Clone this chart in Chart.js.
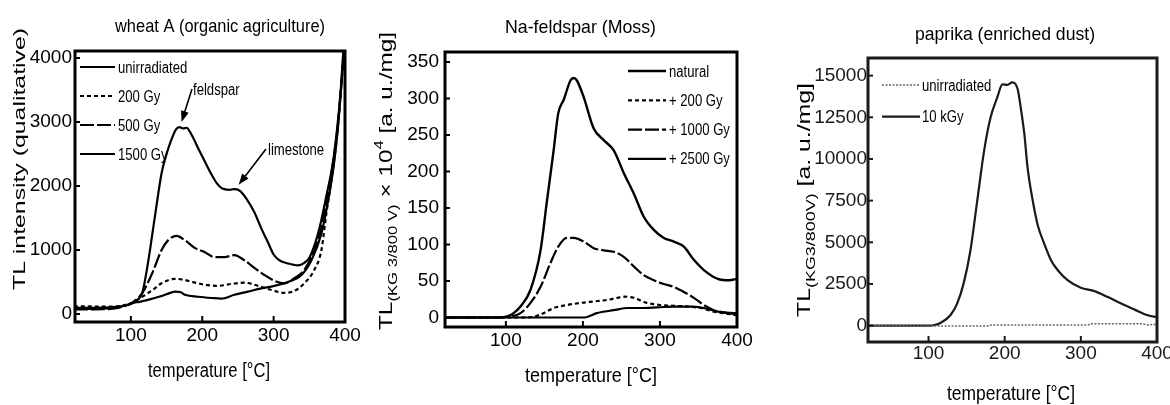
<!DOCTYPE html>
<html><head><meta charset="utf-8">
<script src="https://cdn.jsdelivr.net/npm/chart.js@4.4.1/dist/chart.umd.min.js"></script>
<style>
html,body{margin:0;padding:0;background:#fff;overflow:hidden;width:1170px;height:405px;position:relative}
canvas{position:absolute;top:0}
</style></head><body>
<canvas id="c1" width="370" height="405" style="left:0px"></canvas>
<canvas id="c2" width="400" height="405" style="left:370px"></canvas>
<canvas id="c3" width="420" height="405" style="left:770px"></canvas>
<script>
// ---------------- DATA ----------------
const xTicks = [100, 200, 300, 400];

// Panel 1: wheat A (organic agriculture)
const wheatLabels = ['unirradiated', '200 Gy', '500 Gy', '1500 Gy'];
const wheatYTicks = [0, 1000, 2000, 3000, 4000];
const wheatT_unirr = [20, 40, 60, 80, 95, 101, 112, 124, 143, 155, 162, 170, 176, 194, 213, 227, 245, 264, 283, 301, 320, 339, 353, 367, 376, 384, 390, 395, 400];
const wheatV_unirr = [100, 95, 100, 110, 140, 170, 190, 220, 280, 330, 350, 340, 300, 270, 250, 240, 300, 350, 400, 440, 500, 610, 840, 1260, 1750, 2300, 2900, 3600, 4300];
const wheatT_200 = [20, 40, 60, 80, 95, 101, 116, 130, 143, 162, 176, 190, 208, 222, 241, 259, 278, 297, 315, 329, 343, 357, 367, 374, 381, 388, 393, 397, 400];
const wheatV_200 = [120, 120, 115, 120, 150, 170, 270, 370, 480, 550, 530, 490, 450, 440, 470, 490, 440, 375, 330, 360, 480, 690, 1000, 1580, 2090, 2700, 3300, 3900, 4300];
const wheatT_500 = [20, 40, 60, 80, 95, 101, 116, 130, 143, 152, 164, 176, 190, 203, 217, 231, 245, 259, 273, 287, 301, 315, 329, 343, 357, 366, 375, 383, 390, 395, 400];
const wheatV_500 = [70, 70, 75, 90, 140, 170, 330, 640, 1000, 1150, 1220, 1150, 1030, 970, 890, 890, 920, 840, 720, 610, 520, 480, 560, 690, 1000, 1300, 1800, 2350, 2950, 3600, 4300];
const wheatT_1500 = [20, 40, 60, 80, 95, 101, 110, 116, 124, 134, 143, 150, 156, 163, 168, 173, 178, 185, 196, 205, 212, 220, 228, 238, 244, 252, 262, 273, 283, 292, 300, 308, 320, 334, 343, 350, 358, 364, 374, 383, 389, 394, 397, 400];
const wheatV_1500 = [80, 80, 85, 100, 140, 160, 230, 330, 800, 1550, 2200, 2500, 2700, 2880, 2920, 2900, 2910, 2800, 2550, 2350, 2200, 2050, 1960, 1940, 1950, 1930, 1800, 1590, 1330, 1120, 930, 840, 790, 760, 800, 880, 1100, 1330, 1850, 2360, 2900, 3500, 4000, 4400];
const wheatNotes = ['feldspar', 'limestone'];
const wheatNoteT = [171, 251];
const wheatNoteV = [3000, 2020];

// Panel 2: Na-feldspar (Moss)
const mossLabels = ['natural', '+ 200 Gy', '+ 1000 Gy', '+ 2500 Gy'];
const mossYTicks = [0, 50, 100, 150, 200, 250, 300, 350];
const mossT_nat = [20, 60, 90, 101, 110, 119, 132, 145, 153, 162, 168, 175, 184, 188, 192, 201, 214, 227, 240, 253, 266, 279, 292, 305, 318, 331, 344, 357, 375, 390, 400];
const mossV_nat = [0, 0, 0, 1, 6, 15, 38, 92, 157, 229, 280, 298, 325, 328, 325, 302, 259, 243, 229, 198, 170, 138, 120, 109, 104, 97, 79, 65, 53, 51, 53];
const mossT_200 = [20, 60, 100, 120, 136, 149, 162, 179, 197, 214, 231, 245, 255, 266, 283, 301, 318, 336, 353, 370, 388, 400];
const mossV_200 = [0, 0, 0, 0, 1, 6, 13, 17, 20, 22, 24, 27, 28.5, 27, 20, 17, 16, 15, 13, 8, 5, 3];
const mossT_1000 = [20, 60, 90, 101, 119, 132, 145, 158, 168, 179, 188, 201, 214, 227, 240, 253, 266, 279, 292, 305, 318, 331, 344, 357, 370, 383, 396, 400];
const mossV_1000 = [0, 0, 0, 1, 6, 20, 42, 75, 97, 109, 109, 104, 95, 92, 90, 83, 70, 58, 51, 46, 42, 35, 27, 17, 10, 7, 5, 5];
const mossT_2500 = [20, 100, 150, 201, 218, 240, 258, 275, 297, 318, 340, 357, 375, 396, 400];
const mossV_2500 = [0, 0, 0, 0, 6, 10, 13, 13, 14, 15, 15, 13, 8, 6, 6];

// Panel 3: paprika (enriched dust)
const papLabels = ['unirradiated', '10 kGy'];
const papYTicks = [0, 2500, 5000, 7500, 10000, 12500, 15000];
const papT_unirr = [20, 100, 180, 182, 310, 312, 380, 390, 395, 400];
const papV_unirr = [0, -20, -20, 40, 40, 110, 110, 30, 90, 20];
const papT_10k = [20, 60, 100, 108, 115.5, 128.7, 137.5, 146, 155, 164, 173, 181.5, 190.3, 197, 203.5, 210, 217, 221, 225.8, 230, 236.8, 243.5, 252, 261, 270, 283, 300, 318, 335.5, 353, 370.6, 388, 400];
const papV_10k = [0, 0, 0, 40, 160, 620, 1320, 2520, 4510, 7510, 10500, 12500, 13700, 14470, 14450, 14600, 14200, 13100, 11500, 9500, 7510, 6010, 4910, 3910, 3310, 2710, 2270, 2070, 1710, 1320, 960, 620, 500];

// ---------------- HELPERS ----------------
const FONT_R = '"Liberation Sans",Arial,sans-serif';
const NARROW = 0.82;
function pts(T, V) { return T.map((t, i) => ({ x: t, y: V[i] })); }

// horizontally condensed text (emulates a narrow face)
function nText(ctx, text, x, y, size, opts) {
  opts = opts || {};
  ctx.save();
  ctx.font = size + 'px ' + FONT_R;
  let s = NARROW;
  if (opts.width) s = opts.width / ctx.measureText(text).width;
  ctx.translate(x, y); ctx.scale(s, 1);
  ctx.textAlign = opts.align || 'left';
  ctx.textBaseline = opts.baseline || 'alphabetic';
  ctx.fillStyle = opts.color || '#000';
  ctx.fillText(text, 0, 0);
  ctx.restore();
}
function rotRich(ctx, segs, bx, cy, length) {
  ctx.save();
  let total = 0;
  segs.forEach(s => { ctx.font = s.size + 'px ' + FONT_R; s.w = ctx.measureText(s.text).width; total += s.w; });
  const k = length / total;
  ctx.translate(bx, cy); ctx.rotate(-Math.PI / 2); ctx.scale(k, 1);
  let x = -total / 2;
  ctx.textAlign = 'left'; ctx.textBaseline = 'alphabetic'; ctx.fillStyle = '#000';
  segs.forEach(s => { ctx.font = s.size + 'px ' + FONT_R; ctx.fillText(s.text, x, s.dy || 0); x += s.w; });
  ctx.restore();
}
function arrow(ctx, x0, y0, x1, y1) {
  const a = Math.atan2(y1 - y0, x1 - x0), L = 11, W = 4;
  ctx.beginPath(); ctx.moveTo(x0, y0); ctx.lineTo(x1 - Math.cos(a) * L * 0.8, y1 - Math.sin(a) * L * 0.8); ctx.stroke();
  ctx.beginPath();
  ctx.moveTo(x1, y1);
  ctx.lineTo(x1 - Math.cos(a) * L + Math.sin(a) * W, y1 - Math.sin(a) * L - Math.cos(a) * W);
  ctx.lineTo(x1 - Math.cos(a) * L - Math.sin(a) * W, y1 - Math.sin(a) * L + Math.cos(a) * W);
  ctx.closePath(); ctx.fill();
}

const panelPlugin = {
  id: 'panel',
  afterDraw(chart, args, o) {
    const ctx = chart.ctx, a = chart.chartArea, ox = o.ox;
    const xs = chart.scales.x, ys = chart.scales.y;
    ctx.save();
    ctx.strokeStyle = o.color; ctx.fillStyle = o.color;
    // frame
    ctx.lineWidth = 3;
    ctx.strokeRect(a.left, a.top, a.right - a.left, a.bottom - a.top);
    // inward ticks
    ctx.lineWidth = 2;
    xs.ticks.forEach(t => { const p = xs.getPixelForValue(t.value); if (p < a.right - 3) { ctx.beginPath(); ctx.moveTo(p, a.bottom); ctx.lineTo(p, a.bottom - 6); ctx.stroke(); } });
    ys.ticks.forEach(t => { const p = ys.getPixelForValue(t.value); ctx.beginPath(); ctx.moveTo(a.left, p); ctx.lineTo(a.left + 5, p); ctx.stroke(); });
    // titles
    nText(ctx, o.title.text, o.title.x - ox, o.title.y, o.title.size, { width: o.title.w, align: 'center' });
    nText(ctx, 'temperature [°C]', o.xt.x - ox, o.xt.y, o.xt.size, { width: o.xt.w, align: 'center' });
    rotRich(ctx, o.yt.segs, o.yt.bx - ox, o.yt.cy, o.yt.len);
    // legend
    const L = o.legend;
    chart.data.datasets.forEach((d, i) => {
      const y = L.y0 + i * L.dy;
      ctx.save();
      ctx.strokeStyle = d.borderColor; ctx.lineWidth = d.borderWidth;
      ctx.setLineDash(d.borderDash || []);
      ctx.beginPath(); ctx.moveTo(L.x - ox, y); ctx.lineTo(L.x + L.len - ox, y); ctx.stroke();
      ctx.restore();
      nText(ctx, d.label, L.x + L.len + L.gap - ox, y + 5.5, L.size);
    });
    // annotations
    if (o.notes) {
      ctx.lineWidth = 1.6;
      o.notes.forEach(n => {
        const tx = xs.getPixelForValue(n.t), ty = ys.getPixelForValue(n.v);
        arrow(ctx, n.fx - ox, n.fy, tx, ty);
        nText(ctx, n.text, n.lx - ox, n.ly, 16);
      });
    }
    ctx.restore();
  }
};

function ds(label, T, V, dash, width, color) {
  return { label, data: pts(T, V), borderColor: color || '#000', borderWidth: width || 2.2, borderDash: dash || [],
    pointRadius: 0, fill: false, cubicInterpolationMode: 'monotone', clip: 0 };
}
function scales(xmin, xmax, ymin, ymax, yTicks, yW, xH, yPad, xPad, tickColor) {
  const tickFont = { family: FONT_R, size: 19 };
  return {
    x: { type: 'linear', min: xmin, max: xmax,
      afterBuildTicks: s => { s.ticks = xTicks.map(v => ({ value: v })); },
      afterFit: s => { s.height = xH; },
      ticks: { font: tickFont, color: tickColor, padding: xPad, maxRotation: 0, autoSkip: false, callback: v => String(v) },
      grid: { display: false, drawTicks: false }, border: { display: false } },
    y: { type: 'linear', min: ymin, max: ymax,
      afterBuildTicks: s => { s.ticks = yTicks.map(v => ({ value: v })); },
      afterFit: s => { s.width = yW; },
      ticks: { font: tickFont, color: tickColor, padding: yPad, autoSkip: false, callback: v => String(v) },
      grid: { display: false, drawTicks: false }, border: { display: false } }
  };
}
const common = { responsive: false, animation: false, events: [], devicePixelRatio: 1 };

// Panel 1
new Chart(document.getElementById('c1'), {
  type: 'line',
  data: { datasets: [
    ds(wheatLabels[0], wheatT_unirr, wheatV_unirr),
    ds(wheatLabels[1], wheatT_200, wheatV_200, [4, 3]),
    ds(wheatLabels[2], wheatT_500, wheatV_500, [14, 3]),
    ds(wheatLabels[3], wheatT_1500, wheatV_1500)
  ] },
  options: Object.assign({}, common, {
    layout: { padding: { left: 0, top: 51, right: 25, bottom: 0 } },
    scales: scales(21.7, 400, -125, 4109, wheatYTicks, 75, 83, 3, 2, '#000'),
    plugins: { legend: { display: false }, tooltip: { enabled: false },
      panel: { ox: 0, color: '#000',
        title: { text: 'wheat A (organic agriculture)', x: 220, y: 32, size: 19, w: 210 },
        xt: { x: 209, y: 377, size: 20, w: 122 },
        yt: { bx: 25, cy: 159, len: 262, segs: [{ text: 'TL intensity (qualitative)', size: 17 }] },
        legend: { x: 80, y0: 67, dy: 29, len: 35, gap: 3, size: 16 },
        notes: [
          { text: wheatNotes[0], t: wheatNoteT[0], v: wheatNoteV[0], fx: 192, fy: 89, lx: 193, ly: 95 },
          { text: wheatNotes[1], t: wheatNoteT[1], v: wheatNoteV[1], fx: 266, fy: 149, lx: 268, ly: 155 }
        ] } }
  }),
  plugins: [panelPlugin]
});

// Panel 2
new Chart(document.getElementById('c2'), {
  type: 'line',
  data: { datasets: [
    ds(mossLabels[0], mossT_nat, mossV_nat, [], 2.4),
    ds(mossLabels[1], mossT_200, mossV_200, [4, 3]),
    ds(mossLabels[2], mossT_1000, mossV_1000, [14, 3]),
    ds(mossLabels[3], mossT_2500, mossV_2500)
  ] },
  options: Object.assign({}, common, {
    layout: { padding: { left: 0, top: 52, right: 33, bottom: 0 } },
    scales: scales(21, 400, -13, 363.7, mossYTicks, 75, 78, 6, 2, '#000'),
    plugins: { legend: { display: false }, tooltip: { enabled: false },
      panel: { ox: 370, color: '#000',
        title: { text: 'Na-feldspar (Moss)', x: 580.5, y: 33, size: 19, w: 151 },
        xt: { x: 591, y: 382, size: 21, w: 132 },
        yt: { bx: 392, cy: 181, len: 298, segs: [
          { text: 'TL', size: 19 }, { text: '(KG 3/800 V)', size: 13, dy: 5 },
          { text: ' × 10', size: 19 }, { text: '4', size: 13, dy: -9 }, { text: ' [a. u./mg]', size: 19 }] },
        legend: { x: 628, y0: 71, dy: 29.3, len: 38, gap: 3, size: 16 } } }
  }),
  plugins: [panelPlugin]
});

// Panel 3
new Chart(document.getElementById('c3'), {
  type: 'line',
  data: { datasets: [
    ds(papLabels[0], papT_unirr, papV_unirr, [2, 1.5], 1.5, '#666'),
    ds(papLabels[1], papT_10k, papV_10k, [], 2.2, '#1a1a1a')
  ] },
  options: Object.assign({}, common, {
    layout: { padding: { left: 0, top: 58, right: 33, bottom: 0 } },
    scales: scales(20.5, 400, -983, 16058, papYTicks, 98, 63, 1, 0, '#1a1a1a'),
    plugins: { legend: { display: false }, tooltip: { enabled: false },
      panel: { ox: 770, color: '#1a1a1a',
        title: { text: 'paprika (enriched dust)', x: 1005, y: 40, size: 19, w: 180 },
        xt: { x: 1011, y: 400, size: 21, w: 128 },
        yt: { bx: 810, cy: 200, len: 234, segs: [
          { text: 'TL', size: 18 }, { text: '(KG3/800V)', size: 13, dy: 5 }, { text: ' [a. u./mg]', size: 18 }] },
        legend: { x: 882, y0: 85, dy: 31.7, len: 38, gap: 2, size: 16 } } }
  }),
  plugins: [panelPlugin]
});
</script>
</body></html>
